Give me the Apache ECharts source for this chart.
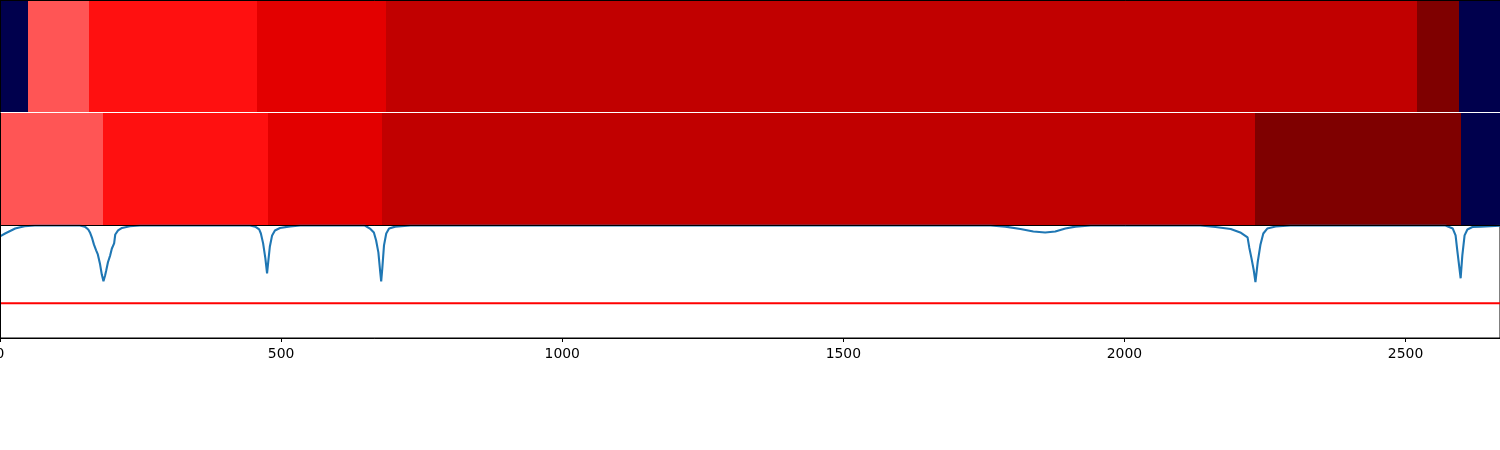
<!DOCTYPE html>
<html>
<head>
<meta charset="utf-8">
<style>html,body{margin:0;padding:0;background:#fff}#chart{width:1500px;height:450px}</style>
<script src="https://cdn.jsdelivr.net/npm/echarts@6/dist/echarts.min.js"></script>
</head>
<body>
<div id="chart"></div>
<script>
const xTicks = [0, 500, 1000, 1500, 2000, 2500];
const xMax = 2668;

const topEdges = [0, 50, 158, 457, 687, 2521, 2595, 2668];
const topColors = ['#00004d', '#ff5555', '#ff1010', '#e30000', '#c10000', '#7f0000', '#00004d'];

const midEdges = [0, 183, 477, 679, 2233, 2599, 2668];
const midColors = ['#ff5555', '#ff1010', '#e30000', '#c10000', '#7f0000', '#00004d'];

const threshold = 0.31;

const lineX = [0, 9, 18, 27, 36, 44, 62, 142, 151, 157, 160, 164, 167, 171, 174, 178, 181, 184, 187, 189, 192, 196, 199, 203, 205, 210, 217, 231, 249,
  445, 454, 461, 464, 468, 472, 475, 477, 480, 484, 489, 498, 516, 534,
  649, 658, 665, 669, 673, 676, 678, 680, 683, 687, 692, 703, 730,
  1762, 1788, 1815, 1838, 1859, 1877, 1895, 1913, 1940,
  2135, 2162, 2189, 2206, 2219, 2222, 2226, 2230, 2233, 2237, 2242, 2247, 2254, 2269, 2295,
  2571, 2584, 2589, 2592, 2598, 2601, 2605, 2610, 2619, 2633, 2668];
const lineY = [0.903, 0.929, 0.951, 0.973, 0.984, 0.993, 1, 1, 0.990, 0.965, 0.938, 0.885, 0.832, 0.779, 0.743, 0.655, 0.566, 0.504, 0.558, 0.602, 0.673, 0.735, 0.796, 0.841, 0.920, 0.956, 0.978, 0.993, 1,
  1, 0.990, 0.965, 0.929, 0.841, 0.708, 0.575, 0.673, 0.814, 0.912, 0.956, 0.978, 0.992, 1,
  1, 0.973, 0.938, 0.867, 0.761, 0.602, 0.504, 0.620, 0.823, 0.929, 0.973, 0.990, 1,
  1, 0.990, 0.969, 0.947, 0.938, 0.947, 0.973, 0.990, 1,
  1, 0.986, 0.969, 0.938, 0.894, 0.805, 0.708, 0.602, 0.496, 0.673, 0.832, 0.929, 0.973, 0.991, 1,
  1, 0.973, 0.912, 0.779, 0.531, 0.735, 0.912, 0.965, 0.986, 0.990, 0.998];

const spine = { show: true, onZero: false, lineStyle: { color: '#000', width: 1 } };
const hiddenX = (gridIndex, position, line) => ({
  type: 'value', gridIndex, min: 0, max: xMax, position, z: 10,
  axisLine: line ? spine : { show: false }, axisTick: { show: false },
  axisLabel: { show: false }, splitLine: { show: false }
});
const plainY = (gridIndex) => ({
  type: 'value', gridIndex, min: 0, max: 1, z: 10,
  axisLine: spine, axisTick: { show: false },
  axisLabel: { show: false }, splitLine: { show: false }
});

function bands(edges, colors, idx) {
  return {
    type: 'custom', xAxisIndex: idx, yAxisIndex: idx, silent: true, clip: true, z: 1,
    data: colors.map((c, i) => [edges[i], edges[i + 1], i]),
    encode: { x: [0, 1] },
    renderItem: (params, api) => {
      const a = api.coord([api.value(0), 1]);
      const b = api.coord([api.value(1), 0]);
      const x0 = Math.round(a[0]), x1 = Math.round(b[0]);
      const y0 = Math.round(a[1]), y1 = Math.round(b[1]);
      return {
        type: 'rect',
        shape: { x: x0, y: y0, width: x1 - x0, height: y1 - y0 },
        style: { fill: colors[api.value(2)], stroke: null }
      };
    }
  };
}

const chart = echarts.init(document.getElementById('chart'), null, { renderer: 'canvas', width: 1500, height: 450 });
chart.setOption({
  animation: false,
  backgroundColor: '#fff',
  grid: [
    { left: 0, right: 0, top: 0, height: 112, outerBoundsMode: 'none' },
    { left: 0, right: 0, top: 113, height: 112.5, outerBoundsMode: 'none' },
    { left: 0, right: 0, top: 225.5, height: 112.5, outerBoundsMode: 'none', show: true, borderColor: '#000', borderWidth: 1, backgroundColor: 'transparent' }
  ],
  xAxis: [
    hiddenX(0, 'top', true),
    hiddenX(1, 'bottom', true),
    {
      type: 'value', gridIndex: 2, min: 0, max: xMax, position: 'bottom', z: 10,
      axisLine: spine,
      axisTick: { show: true, length: 4, customValues: xTicks, lineStyle: { color: '#000', width: 1 } },
      axisLabel: { show: true, customValues: xTicks, formatter: v => String(v), color: '#000', fontFamily: 'DejaVu Sans', fontSize: 13.9, margin: 9.5, hideOverlap: false },
      splitLine: { show: false }
    }
  ],
  yAxis: [plainY(0), plainY(1), plainY(2)],
  series: [
    bands(topEdges, topColors, 0),
    bands(midEdges, midColors, 1),
    {
      type: 'line', xAxisIndex: 2, yAxisIndex: 2, showSymbol: false, silent: true, z: 3,
      data: lineX.map((x, i) => [x, lineY[i]]),
      lineStyle: { color: '#1f77b4', width: 2.1 }
    },
    {
      type: 'line', xAxisIndex: 2, yAxisIndex: 2, showSymbol: false, silent: true, z: 4,
      data: [[0, threshold], [xMax, threshold]],
      lineStyle: { color: '#ff0000', width: 2 }
    }
  ]
});
</script>
</body>
</html>
